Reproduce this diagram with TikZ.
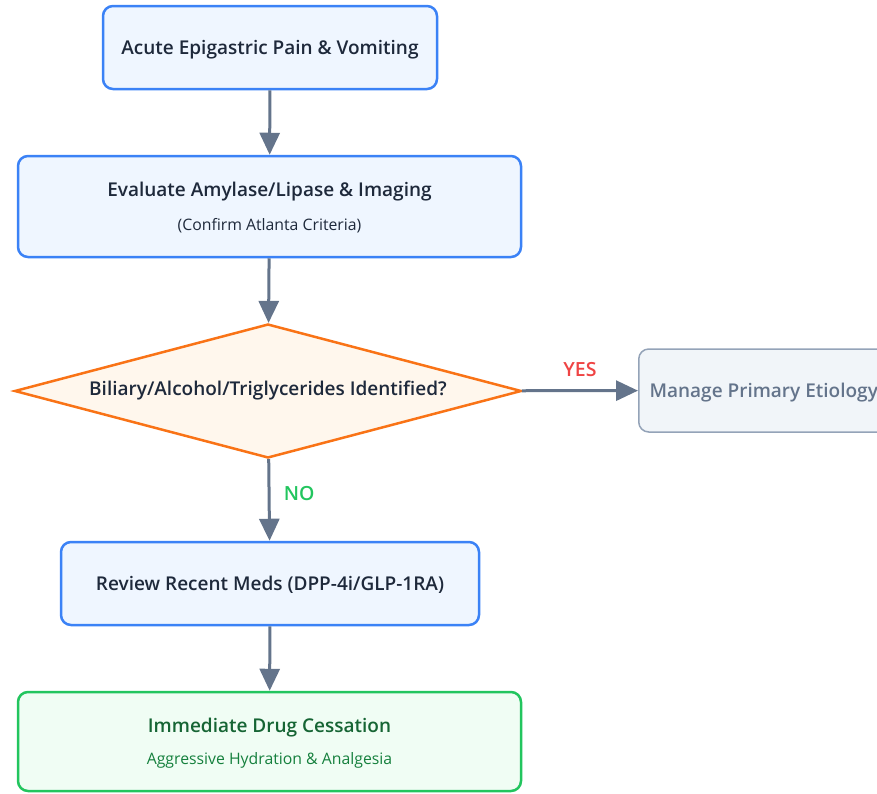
\documentclass[tikz,border=0pt]{standalone}
\usepackage{fontspec}
\setmainfont{Open Sans}[BoldFont={* Semibold}]
\usetikzlibrary{arrows.meta,shapes.geometric,positioning}

\definecolor{stepblue}{HTML}{3B82F6}
\definecolor{stepfill}{HTML}{EFF6FF}
\definecolor{inktext}{HTML}{1E293B}
\definecolor{askorange}{HTML}{F97316}
\definecolor{askfill}{HTML}{FFF7ED}
\definecolor{sidegray}{HTML}{94A3B8}
\definecolor{sidefill}{HTML}{F1F5F9}
\definecolor{flowgray}{HTML}{64748B}
\definecolor{endgreen}{HTML}{22C55E}
\definecolor{endfill}{HTML}{F0FDF4}
\definecolor{endtitle}{HTML}{166534}
\definecolor{endsub}{HTML}{15803D}
\definecolor{yesred}{HTML}{EF4444}

\begin{document}
\begin{tikzpicture}[x=1pt, y=-1pt, >={Triangle[length=22pt,width=20pt]},
  stepbox/.style={draw=stepblue, fill=stepfill, line width=2.5pt, rounded corners=10pt,
    align=center, text depth=0pt, text=inktext, font=\fontsize{19}{22}\selectfont\bfseries},
  askbox/.style={diamond, draw=askorange, fill=askfill, line width=2.5pt, inner sep=0pt,
    aspect=3.78, text=inktext, font=\fontsize{19}{22}\selectfont\bfseries},
  sidebox/.style={draw=sidegray, fill=sidefill, line width=1.5pt, rounded corners=10pt,
    text depth=0pt, text=flowgray, font=\fontsize{19}{22}\selectfont\bfseries},
  endbox/.style={draw=endgreen, fill=endfill, line width=2.5pt, rounded corners=10pt,
    align=center, text depth=0pt, text=endtitle, font=\fontsize{19}{22}\selectfont\bfseries},
  flow/.style={draw=flowgray, line width=3pt, ->},
  flowlabel/.style={font=\fontsize{19.5}{22}\selectfont\bfseries}]
\useasboundingbox (0,0) rectangle (877,793);
\clip (0,0) rectangle (877,793);

% steps
\node[stepbox, minimum width=334pt, minimum height=83pt] (onset) at (270,47.5)
  {Acute Epigastric Pain \& Vomiting};
\node[stepbox, minimum width=503pt, minimum height=101pt] (evaluate) at (269.5,206.5)
  {Evaluate Amylase/Lipase \& Imaging\\[12pt]{\fontsize{15.8}{18}\selectfont\mdseries (Confirm Atlanta Criteria)}};
\node[askbox, minimum width=507pt, minimum height=134pt] (etiology) at (268,391)
  {Biliary/Alcohol/Triglycerides Identified?};
\node[sidebox, anchor=west, minimum width=250pt, minimum height=83pt] (primary) at (638,390.5)
  {Manage Primary Etiology};
\node[stepbox, minimum width=418pt, minimum height=83pt] (meds) at (270,583.5)
  {Review Recent Meds (DPP-4i/GLP-1RA)};
\node[endbox, minimum width=503pt, minimum height=99pt] (stop) at (269.5,741.5)
  {Immediate Drug Cessation\\[10pt]{\fontsize{15.8}{18}\selectfont\mdseries\color{endsub} Aggressive Hydration \& Analgesia}};

% connectors
\draw[flow] (onset) -- (evaluate);
\draw[flow] (evaluate) -- (etiology);
\draw[flow] (etiology) -- node[above=9pt, text=yesred, flowlabel] (yes) {YES} (primary);
\draw[flow] (etiology) -- node[pos=0.42, right=10pt, text=endgreen, flowlabel] (no) {NO} (meds);
\draw[flow] (meds) -- (stop);
\end{tikzpicture}
\end{document}
